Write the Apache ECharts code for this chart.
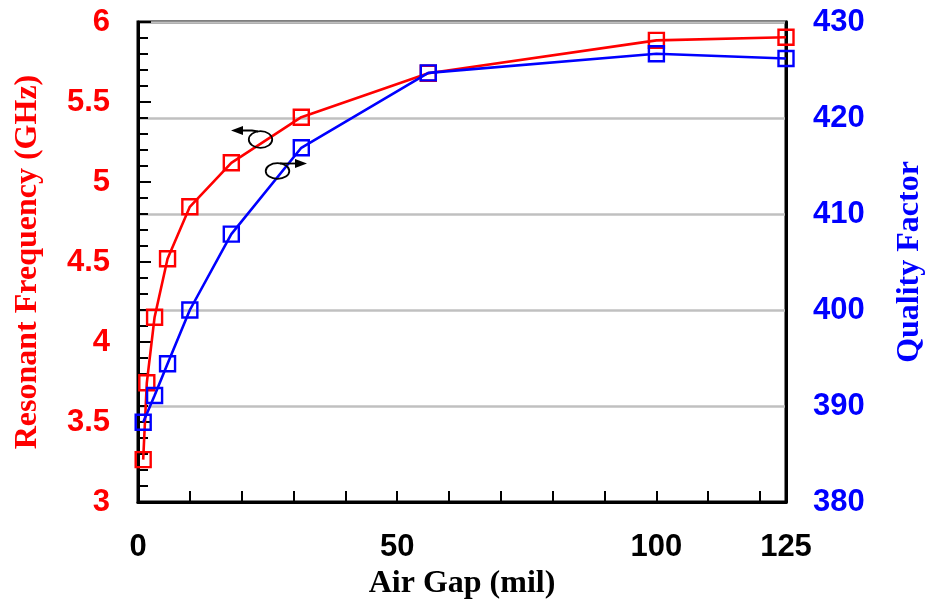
<!DOCTYPE html>
<html>
<head>
<meta charset="utf-8">
<script src="https://cdn.jsdelivr.net/npm/echarts@6/dist/echarts.min.js"></script>
<style>
  html, body { margin: 0; padding: 0; background: #fff; }
  #main { width: 928px; height: 602px; }
</style>
</head>
<body>
<div id="main"></div>
<script>
// air gap (mil) for each measured point
var gapFreq = [1, 1.7, 3.2, 5.7, 10, 18, 31.5, 56, 100, 125];
var freqGHz = [3.265, 3.745, 4.155, 4.52, 4.845, 5.12, 5.405, 5.68, 5.885, 5.905];

var gapQ = [1, 3.2, 5.7, 10, 18, 31.5, 56, 100, 125];
var qFactor = [388.3, 391.1, 394.4, 400, 407.9, 416.9, 424.7, 426.7, 426.2];

var xLabels = [0, 50, 100, 125];
var xTicks = [0, 10, 20, 30, 40, 50, 60, 70, 80, 90, 100, 110, 120, 125];

function pairs(xs, ys) {
    var out = [];
    for (var i = 0; i < xs.length; i++) out.push([xs[i], ys[i]]);
    return out;
}

var labelFont = { fontFamily: 'Liberation Sans', fontWeight: 'bold', fontSize: 31 };
var nameFont = { fontFamily: 'Liberation Serif', fontWeight: 'bold', fontSize: 32 };

var myChart = echarts.init(document.getElementById('main'));

var option = {
    backgroundColor: '#fff',
    animation: false,
    grid: {
        left: 138, right: 142, top: 22, bottom: 100,
        outerBoundsMode: 'none',
        containLabel: false,
        show: true, borderColor: '#000', borderWidth: 3
    },
    xAxis: {
        type: 'value',
        min: 0, max: 125,
        name: 'Air Gap (mil)',
        nameLocation: 'middle',
        nameGap: 64,
        nameTextStyle: Object.assign({ color: '#000' }, nameFont),
        axisLine: { lineStyle: { color: '#000', width: 3 } },
        axisTick: { inside: true, length: 11, lineStyle: { color: '#000', width: 2 }, customValues: xTicks },
        axisLabel: Object.assign({ color: '#000', margin: 30, customValues: xLabels }, labelFont),
        splitLine: { show: false }
    },
    yAxis: [
        {
            type: 'value',
            position: 'left',
            min: 3, max: 6, interval: 0.5,
            name: 'Resonant Frequency (GHz)',
            nameLocation: 'middle',
            nameGap: 94,
            nameTextStyle: Object.assign({ color: '#ff0000' }, nameFont),
            axisLine: { show: true, lineStyle: { color: '#000', width: 3 } },
            axisTick: { inside: true, length: 13, lineStyle: { color: '#000', width: 2 } },
            minorTick: { show: true, splitNumber: 5, length: 10, lineStyle: { color: '#000', width: 2 } },
            axisLabel: Object.assign({ color: '#ff0000', margin: 28 }, labelFont),
            splitLine: { show: false }
        },
        {
            type: 'value',
            position: 'right',
            min: 380, max: 430, interval: 10,
            name: 'Quality Factor',
            nameLocation: 'middle',
            nameGap: 108,
            nameRotate: 90,
            nameTextStyle: Object.assign({ color: '#0000ff' }, nameFont),
            axisLine: { show: true, lineStyle: { color: '#000', width: 3 } },
            axisTick: { show: false },
            axisLabel: Object.assign({ color: '#0000ff', margin: 27 }, labelFont),
            splitLine: { show: true, lineStyle: { color: '#c0c0c0', width: 2.5 } }
        }
    ],
    series: [
        {
            name: 'Resonant Frequency',
            type: 'line',
            yAxisIndex: 0,
            data: pairs(gapFreq, freqGHz),
            symbol: 'rect',
            symbolSize: 15,
            lineStyle: { color: '#ff0000', width: 2.6 },
            itemStyle: { color: 'rgba(0,0,0,0)', borderColor: '#ff0000', borderWidth: 2.4 },
            z: 2
        },
        {
            name: 'Quality Factor',
            type: 'line',
            yAxisIndex: 1,
            data: pairs(gapQ, qFactor),
            symbol: 'rect',
            symbolSize: 15,
            lineStyle: { color: '#0000ff', width: 2.6 },
            itemStyle: { color: 'rgba(0,0,0,0)', borderColor: '#0000ff', borderWidth: 2.4 },
            z: 3
        }
    ],
    // ellipse + arrow markers saying which curve goes with which axis
    graphic: [
        { type: 'ellipse', shape: { cx: 260.5, cy: 139.5, rx: 11.7, ry: 8.3 }, style: { fill: 'none', stroke: '#000', lineWidth: 1.8 }, z: 10 },
        { type: 'polyline', shape: { points: [[240, 130.5], [252, 130.5], [258, 131.5]] }, style: { fill: 'none', stroke: '#000', lineWidth: 1.8 }, z: 10 },
        { type: 'polygon', shape: { points: [[231, 130.5], [243, 126], [243, 135]] }, style: { fill: '#000' }, z: 10 },

        { type: 'ellipse', shape: { cx: 277.5, cy: 171, rx: 11.8, ry: 7.8 }, style: { fill: 'none', stroke: '#000', lineWidth: 1.8 }, z: 10 },
        { type: 'polyline', shape: { points: [[280, 163.5], [286, 163.5], [298, 163.5]] }, style: { fill: 'none', stroke: '#000', lineWidth: 1.8 }, z: 10 },
        { type: 'polygon', shape: { points: [[307, 163.5], [295, 159], [295, 168]] }, style: { fill: '#000' }, z: 10 }
    ]
};

myChart.setOption(option);
</script>
</body>
</html>
